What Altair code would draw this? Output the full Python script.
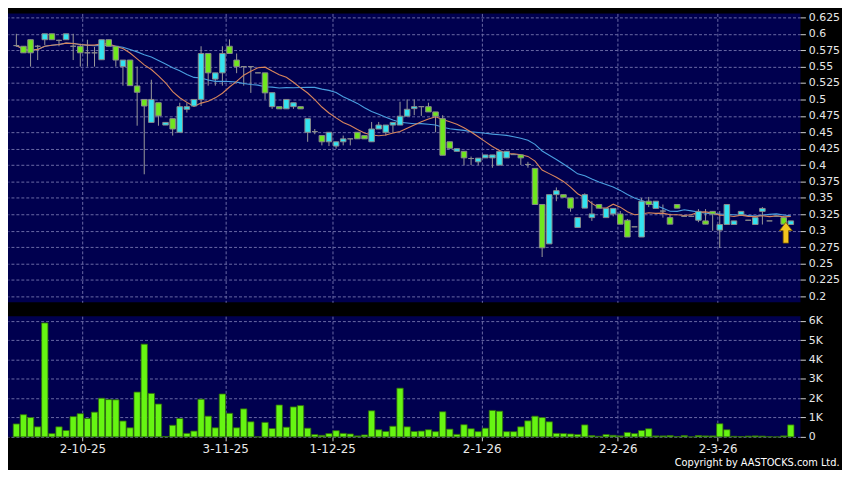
import altair as alt
import pandas as pd

# ---------------- data ----------------
opens = [0.582, 0.581, 0.591, 0.581, 0.591, 0.600, 0.590, 0.591, 0.581, 0.581,
         0.571, 0.571, 0.5605, 0.591, 0.581, 0.550, 0.560, 0.5205, 0.500, 0.465,
         0.495, 0.461, 0.4707, 0.450, 0.485, 0.490, 0.500, 0.570, 0.531, 0.5405,
         0.581, 0.560, 0.550, 0.550, 0.5405, 0.5405, 0.489, 0.489, 0.4857, 0.489,
         0.489, 0.450, 0.451, 0.445, 0.4355, 0.429, 0.4355, 0.440, 0.450, 0.445,
         0.4355, 0.455, 0.450, 0.461, 0.461, 0.4745, 0.486, 0.489, 0.489, 0.481,
         0.4707, 0.4355, 0.421, 0.421, 0.410, 0.405, 0.411, 0.411, 0.400, 0.411,
         0.416, 0.4155, 0.401, 0.395, 0.340, 0.280, 0.355, 0.355, 0.350, 0.305,
         0.3345, 0.320, 0.340, 0.320, 0.3256, 0.3256, 0.316, 0.306, 0.2905, 0.345,
         0.334, 0.330, 0.320, 0.340, 0.322, 0.322, 0.316, 0.315, 0.3295, 0.301,
         0.3095, 0.3095, 0.3245, 0.316, 0.3095, 0.3295, 0.315, 0.322, 0.320, 0.3095]
highs = [0.600, 0.581, 0.591, 0.583, 0.600, 0.600, 0.591, 0.600, 0.600, 0.585,
         0.591, 0.580, 0.591, 0.591, 0.581, 0.560, 0.560, 0.550, 0.500, 0.530,
         0.495, 0.465, 0.4707, 0.495, 0.495, 0.500, 0.581, 0.570, 0.5405, 0.581,
         0.5915, 0.570, 0.550, 0.550, 0.5405, 0.5405, 0.5103, 0.489, 0.500, 0.495,
         0.489, 0.4707, 0.455, 0.445, 0.450, 0.4355, 0.445, 0.440, 0.450, 0.445,
         0.4657, 0.4657, 0.461, 0.465, 0.4965, 0.500, 0.500, 0.489, 0.495, 0.481,
         0.476, 0.4355, 0.425, 0.421, 0.413, 0.4106, 0.4155, 0.4155, 0.421, 0.421,
         0.416, 0.4155, 0.405, 0.395, 0.340, 0.355, 0.366, 0.355, 0.350, 0.320,
         0.357, 0.345, 0.340, 0.334, 0.334, 0.330, 0.318, 0.306, 0.350, 0.3515,
         0.345, 0.340, 0.326, 0.340, 0.322, 0.322, 0.333, 0.333, 0.3295, 0.330,
         0.340, 0.315, 0.3295, 0.316, 0.320, 0.336, 0.315, 0.322, 0.322, 0.315]
lows = [0.580, 0.571, 0.550, 0.560, 0.583, 0.591, 0.581, 0.591, 0.560, 0.550,
        0.550, 0.550, 0.5605, 0.581, 0.550, 0.521, 0.521, 0.460, 0.386, 0.465,
        0.460, 0.461, 0.445, 0.450, 0.480, 0.490, 0.490, 0.521, 0.521, 0.521,
        0.570, 0.540, 0.521, 0.510, 0.5405, 0.500, 0.4856, 0.4857, 0.4857, 0.4857,
        0.4857, 0.4355, 0.447, 0.430, 0.429, 0.425, 0.430, 0.430, 0.440, 0.440,
        0.4355, 0.455, 0.445, 0.450, 0.461, 0.4745, 0.476, 0.475, 0.481, 0.450,
        0.415, 0.425, 0.421, 0.400, 0.400, 0.400, 0.411, 0.396, 0.400, 0.411,
        0.416, 0.400, 0.396, 0.340, 0.260, 0.280, 0.345, 0.351, 0.329, 0.305,
        0.3345, 0.315, 0.3344, 0.320, 0.322, 0.310, 0.2905, 0.306, 0.2905, 0.336,
        0.334, 0.320, 0.310, 0.3344, 0.322, 0.322, 0.313, 0.310, 0.300, 0.274,
        0.3095, 0.3095, 0.3245, 0.316, 0.3095, 0.3095, 0.315, 0.322, 0.310, 0.3095]
closes = [0.582, 0.571, 0.571, 0.581, 0.600, 0.591, 0.590, 0.600, 0.581, 0.571,
          0.571, 0.571, 0.591, 0.581, 0.560, 0.560, 0.521, 0.511, 0.490, 0.500,
          0.475, 0.465, 0.455, 0.489, 0.489, 0.500, 0.570, 0.5405, 0.5405, 0.570,
          0.570, 0.550, 0.550, 0.550, 0.5405, 0.510, 0.5103, 0.4857, 0.500, 0.495,
          0.4857, 0.4707, 0.451, 0.4355, 0.450, 0.4355, 0.440, 0.440, 0.440, 0.440,
          0.455, 0.461, 0.461, 0.465, 0.4745, 0.485, 0.489, 0.489, 0.481, 0.4745,
          0.415, 0.4257, 0.425, 0.411, 0.410, 0.4106, 0.4155, 0.4155, 0.421, 0.421,
          0.416, 0.411, 0.401, 0.340, 0.274, 0.355, 0.361, 0.351, 0.3345, 0.320,
          0.355, 0.3256, 0.3344, 0.334, 0.334, 0.310, 0.2905, 0.306, 0.345, 0.340,
          0.345, 0.330, 0.310, 0.3344, 0.322, 0.322, 0.3295, 0.310, 0.3256, 0.3095,
          0.340, 0.315, 0.3295, 0.316, 0.320, 0.334, 0.315, 0.322, 0.310, 0.315]
volumes_k = [0.67, 1.15, 1.0, 0.52, 5.9, 0.17, 0.52, 0.33, 1.05, 1.2,
             0.95, 1.28, 2.0, 1.93, 1.92, 0.82, 0.47, 2.32, 4.8, 2.25,
             1.7, 0.02, 0.6, 0.95, 0.18, 0.3, 1.95, 1.07, 0.47, 2.22,
             1.22, 0.47, 1.45, 0.78, 0.0, 0.75, 0.43, 1.65, 0.5, 1.55,
             1.62, 0.45, 0.12, 0.08, 0.17, 0.32, 0.18, 0.15, 0.05, 0.1,
             1.35, 0.37, 0.28, 0.55, 2.52, 0.52, 0.28, 0.3, 0.37, 0.27,
             1.3, 0.4, 0.13, 0.63, 0.42, 0.27, 0.45, 1.37, 1.33, 0.27,
             0.27, 0.52, 0.83, 1.07, 1.0, 0.78, 0.18, 0.17, 0.15, 0.12,
             0.62, 0.07, 0.03, 0.12, 0.08, 0.05, 0.23, 0.17, 0.33, 0.42,
             0.05, 0.05, 0.07, 0.02, 0.07, 0.0, 0.07, 0.05, 0.05, 0.68,
             0.37, 0.03, 0.02, 0.04, 0.05, 0.04, 0.01, 0.0, 0.05, 0.62]

date_tick_pos = [9.3, 29.4, 44.45, 65.5, 84.65, 98.7]
date_tick_labels = ["2-10-25", "3-11-25", "1-12-25", "2-1-26", "2-2-26", "2-3-26"]
price_ticks = [0.2, 0.225, 0.25, 0.275, 0.3, 0.325, 0.35, 0.375, 0.4, 0.425,
               0.45, 0.475, 0.5, 0.525, 0.55, 0.575, 0.6, 0.625]
volume_ticks = [0, 1, 2, 3, 4, 5, 6]
marker_pos = [108.3]
marker_price = [0.297]

# ---------------- tables ----------------
n = len(closes)
df = pd.DataFrame({
    "i": list(range(n)),
    "open": opens, "high": highs, "low": lows, "close": closes,
    "vol": volumes_k,
})
df["dir"] = ["up" if c >= o else "down" for o, c in zip(opens, closes)]
marker_df = pd.DataFrame({"i": marker_pos, "p": marker_price})

# ---------------- style ----------------
BG = "#000000"
PANEL = "#00004f"
GRID = "#6a6aa6"
TXT = "#e8e8e8"
CYAN = "#33e3f0"
GREEN = "#6fe61e"
W = 801
XDOM = [-0.48, 109.66]

label_expr = " : ".join(
    f"datum.value == {p} ? '{t}'" for p, t in zip(date_tick_pos, date_tick_labels)
) + " : ''"

xscale = alt.Scale(domain=XDOM, nice=False, zero=False)
x_grid_axis = alt.Axis(values=date_tick_pos, grid=True, labels=False, ticks=False,
                       domain=False, title=None, gridColor=GRID, gridDash=[3, 2],
                       gridWidth=1)
yscale = alt.Scale(domain=[0.191, 0.631], nice=False, zero=False)
yaxis = alt.Axis(values=price_ticks, orient="right", format=".3~f", title=None,
                 grid=True, gridColor=GRID, gridDash=[3, 2], domain=False,
                 tickColor="#d0d0d0", tickSize=5, labelPadding=3, labelOverlap=False,
                 labelColor=TXT, labelFont="DejaVu Sans", labelFontSize=11)

base = alt.Chart(df).encode(x=alt.X("i:Q", scale=xscale, axis=x_grid_axis))

wicks = base.mark_rule(color="#9a9a9a", strokeWidth=1).encode(
    y=alt.Y("low:Q", scale=yscale, axis=yaxis), y2="high:Q")

bodies = base.mark_bar(size=5.6, stroke="#8a8a8a", strokeWidth=1).encode(
    y=alt.Y("open:Q", scale=yscale, axis=yaxis),
    y2="close:Q",
    color=alt.Color("dir:N", scale=alt.Scale(domain=["up", "down"], range=[CYAN, GREEN]),
                    legend=None))

ma10 = base.transform_window(
    ma="mean(close)", frame=[-9, 0], sort=[alt.SortField("i")]
).mark_line(color="#d8855c", strokeWidth=1.1).encode(
    y=alt.Y("ma:Q", scale=yscale, axis=yaxis))

ma20 = base.transform_window(
    ma="mean(close)", frame=[-19, 0], sort=[alt.SortField("i")]
).mark_line(color="#4a9fe0", strokeWidth=1.1).encode(
    y=alt.Y("ma:Q", scale=yscale, axis=yaxis))

arrow = alt.Chart(marker_df).mark_point(
    shape="M0,-1L0.62,-0.2L0.26,-0.2L0.26,1L-0.26,1L-0.26,-0.2L-0.62,-0.2Z",
    filled=True, fill="#f2c41e", stroke="#7a5800", strokeWidth=0.8, size=441, opacity=1
).encode(x=alt.X("i:Q", scale=xscale, axis=x_grid_axis),
         y=alt.Y("p:Q", scale=yscale, axis=yaxis))

price = alt.layer(wicks, ma20, ma10, bodies, arrow).properties(width=W, height=292)

vbase = alt.Chart(df).encode(
    x=alt.X("i:Q", scale=xscale,
            axis=alt.Axis(values=date_tick_pos, labelExpr=label_expr, title=None,
                          grid=True, gridColor=GRID, gridDash=[3, 2], domain=False,
                          tickColor="#d0d0d0", tickSize=4, labelPadding=3,
                          labelColor=TXT, labelFont="DejaVu Sans", labelFontSize=12,
                          labelFlush=False)))
vol = vbase.mark_bar(size=6.4, color="#66f512", stroke="#2f6a0c", strokeWidth=0.8).encode(
    y=alt.Y("vol:Q", scale=alt.Scale(domain=[0, 6.25], nice=False),
            axis=alt.Axis(values=volume_ticks, orient="right", title=None,
                          labelExpr="datum.value == 0 ? '0' : datum.value + 'K'",
                          grid=True, gridColor=GRID, gridDash=[3, 2], domain=False,
                          tickColor="#d0d0d0", tickSize=5, labelPadding=3,
                          labelColor=TXT, labelFont="DejaVu Sans", labelFontSize=11))
).properties(width=W, height=122)

chart = alt.vconcat(price, vol, spacing=12).properties(
    background=BG,
    padding={"left": 0, "top": 0, "right": 2, "bottom": 0},
    title=alt.TitleParams(
        "Copyright by AASTOCKS.com Ltd.", orient="bottom", anchor="end",
        font="DejaVu Sans Condensed, Liberation Sans Narrow, Liberation Sans",
        fontSize=11, fontWeight="normal", color="#ffffff", offset=2),
).configure_view(fill=PANEL, stroke=None)

chart.save("out.html", embed_options={"renderer": "svg", "actions": False})
